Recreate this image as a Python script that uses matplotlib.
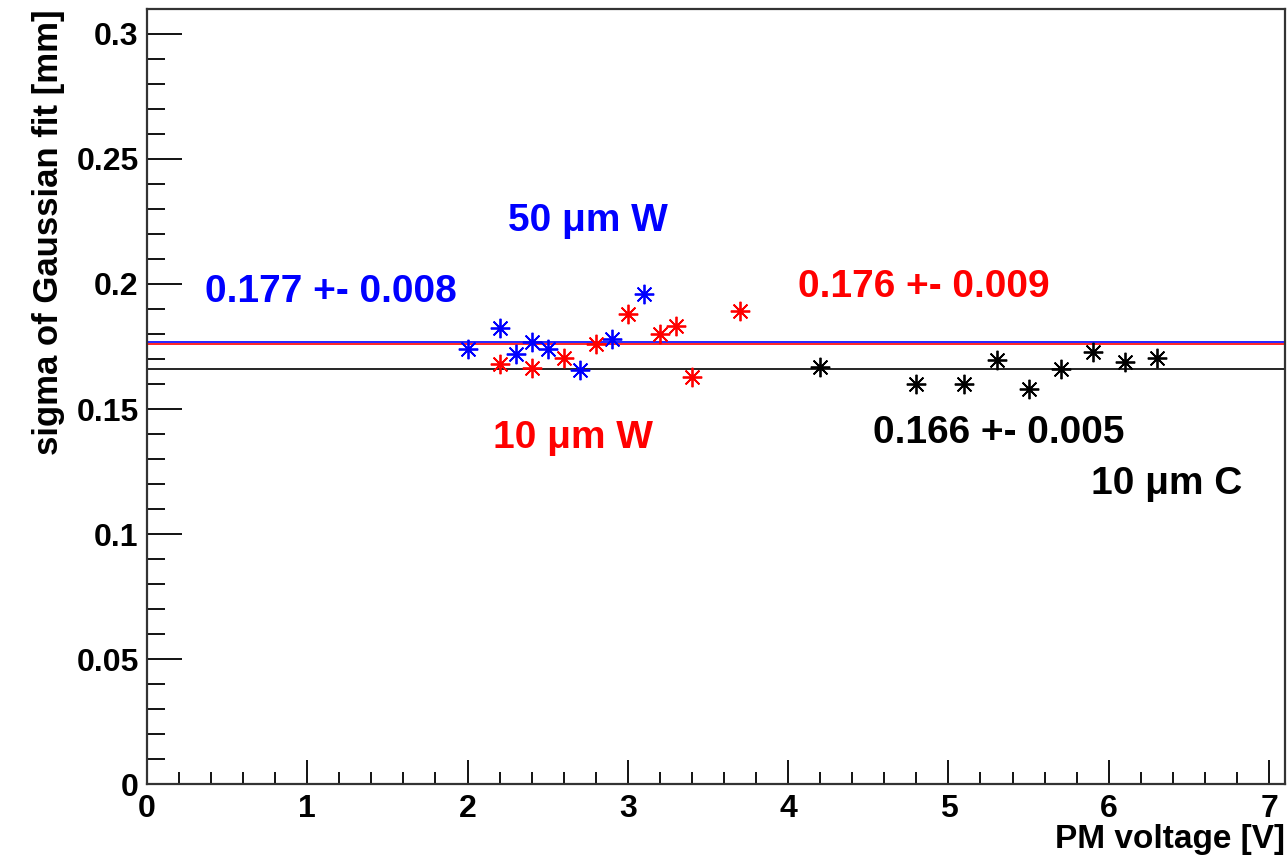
import matplotlib
matplotlib.use("Agg")
import matplotlib.pyplot as plt
from matplotlib.ticker import MultipleLocator

plt.rcParams['font.family'] = ['Liberation Sans', 'DejaVu Sans']
plt.rcParams['font.weight'] = 'bold'

# 50 um W (blue)
volt_50W = [2.0, 2.2, 2.3, 2.4, 2.5, 2.7, 2.9, 3.1]
sigma_50W = [0.174, 0.1825, 0.172, 0.177, 0.174, 0.1655, 0.178, 0.196]
fit_50W = 0.177

# 10 um W (red)
volt_10W = [2.2, 2.4, 2.6, 2.8, 3.0, 3.2, 3.3, 3.4, 3.7]
sigma_10W = [0.168, 0.1664, 0.1705, 0.176, 0.188, 0.180, 0.183, 0.163, 0.189]
fit_10W = 0.176

# 10 um C (black)
volt_10C = [4.2, 4.8, 5.1, 5.3, 5.5, 5.7, 5.9, 6.1, 6.3]
sigma_10C = [0.167, 0.160, 0.160, 0.1697, 0.158, 0.166, 0.173, 0.169, 0.1705]
fit_10C = 0.166

fig = plt.figure(figsize=(12.88, 8.63), dpi=100)
ax = fig.add_axes([0.1141, 0.0915, 0.8836, 0.8981])

ax.set_xlim(0, 7.1)
ax.set_ylim(0, 0.31)

ax.axhline(fit_50W, color='blue', lw=1.2)
ax.axhline(fit_10W, color='red', lw=1.2)
ax.axhline(fit_10C, color='black', lw=1.2)

star = (8, 2, 0)
ax.plot(volt_50W, sigma_50W, ls='none', marker=star, ms=14, mew=1.3, color='blue')
ax.plot(volt_10W, sigma_10W, ls='none', marker=star, ms=14, mew=1.3, color='red')
ax.plot(volt_10C, sigma_10C, ls='none', marker=star, ms=14, mew=1.3, color='black')

tsize = 28
ax.text(2.25, 0.2253, '50 μm W', color='blue', fontsize=tsize, fontweight='bold', va='center')
ax.text(0.36, 0.1966, '0.177 +- 0.008', color='blue', fontsize=tsize, fontweight='bold', va='center')
ax.text(4.06, 0.1986, '0.176 +- 0.009', color='red', fontsize=tsize, fontweight='bold', va='center')
ax.text(2.16, 0.1386, '10 μm W', color='red', fontsize=tsize, fontweight='bold', va='center')
ax.text(4.53, 0.1406, '0.166 +- 0.005', color='black', fontsize=tsize, fontweight='bold', va='center')
ax.text(5.89, 0.1199, '10 μm C', color='black', fontsize=tsize, fontweight='bold', va='center')

ax.xaxis.set_major_locator(MultipleLocator(1))
ax.xaxis.set_minor_locator(MultipleLocator(0.2))
ax.yaxis.set_major_locator(MultipleLocator(0.05))
ax.yaxis.set_minor_locator(MultipleLocator(0.01))
ax.yaxis.set_major_formatter(plt.FuncFormatter(lambda v, p: '%g' % round(v, 3)))

ax.tick_params(axis='x', which='major', direction='in', length=17, width=1.3, labelsize=23, pad=7)
ax.tick_params(axis='x', which='minor', direction='in', length=8.5, width=1.3)
ax.tick_params(axis='y', which='major', direction='in', length=25, width=1.3, labelsize=23, pad=6)
ax.tick_params(axis='y', which='minor', direction='in', length=13, width=1.3)

for s in ax.spines.values():
    s.set_linewidth(1.6)
    s.set_color('#333333')

ax.set_xlabel('PM voltage [V]', fontsize=24, fontweight='bold', loc='right', labelpad=0)
ax.set_ylabel('sigma of Gaussian fit [mm]', fontsize=25, fontweight='bold', loc='top', labelpad=8)

fig.savefig('out.png', dpi=100)
